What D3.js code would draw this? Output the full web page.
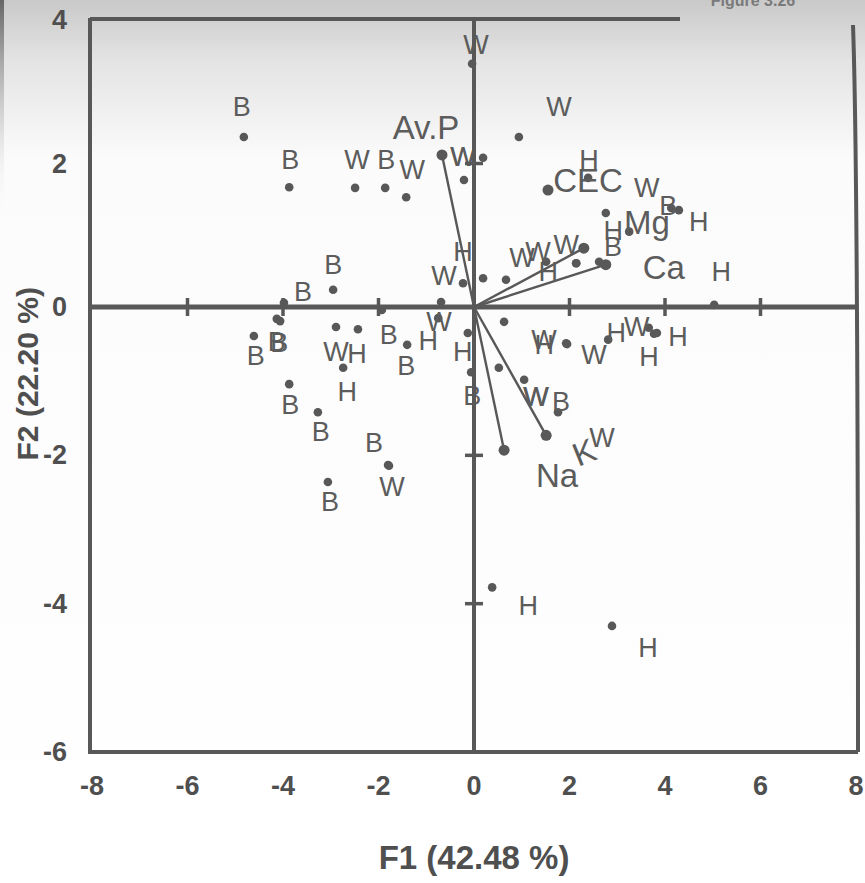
<!DOCTYPE html>
<html><head><meta charset="utf-8">
<script src="https://cdn.jsdelivr.net/npm/d3@7"></script>
<style>
html,body{margin:0;padding:0;background:#fff;}
svg{display:block;}
</style></head>
<body>
<svg id="chart" width="865" height="883"></svg>
<script>
// ---- data ----
const obsLabels = ["B","B","W","B","W","W","W","W","W","H","W","W","B","B","B","B","B","W","H","H","B","B","H","H","B","B","B","B","W","B","W","H","W","H","B","B","H","H","W","B","W","W","W","H","W","H","W","H","H","H","H","W","W","H"];
const obsF1 = [-4.82,-3.87,-2.49,-1.86,-1.42,-0.21,0.19,-0.04,-0.23,0.19,0.67,-0.69,-2.95,-3.98,-4.61,-4.13,-4.06,-2.89,-2.43,-2.74,-1.93,-1.40,-0.75,-0.13,-0.06,-3.87,-3.27,-1.80,-1.78,-3.06,0.94,2.39,2.76,3.25,2.62,4.13,4.29,5.03,1.53,1.76,1.05,0.52,0.63,1.93,1.95,2.81,3.66,3.77,3.83,0.38,2.89,1.51,2.14,2.14];
const obsF2 = [2.37,1.67,1.66,1.66,1.53,1.77,2.08,3.39,0.33,0.40,0.38,0.07,0.24,0.06,-0.39,-0.16,-0.19,-0.27,-0.30,-0.82,-0.04,-0.51,-0.15,-0.35,-0.88,-1.04,-1.42,-2.13,-2.14,-2.36,2.37,1.80,1.31,1.05,0.63,1.38,1.35,0.03,-1.74,-1.42,-0.98,-0.82,-0.20,-0.49,-0.50,-0.44,-0.28,-0.36,-0.35,-3.78,-4.30,0.63,0.61,0.61];

const varNames = ["Av.P","CEC","Mg","Ca","Na","K"];
const varF1 = [-0.67,1.55,2.30,2.76,0.63,1.51];
const varF2 = [2.12,1.63,0.82,0.59,-1.93,-1.73];
const varNoLine = ["CEC"];

const xTicks = [-8,-6,-4,-2,0,2,4,6,8];
const yTicks = [-6,-4,-2,0,2,4];
const xTitle = "F1 (42.48 %)";
const yTitle = "F2 (22.20 %)";
const figNote = "Figure 3.26";

// ---- layout (label offsets in px, not data) ----
const obsLabelOffset = [[-2,-30],[1,-27],[2,-28],[1,-28],[6,-27],[-1,-23],[-20,-1],[4,-19],[-19,-7],[-20,-26],[16,-22],[-2,20],[0,-25],[19,-11],[2,20],[0,23],[-1,22],[0,25],[-1,25],[4,24],[7,25],[-1,21],[-10,23],[-5,19],[1,24],[1,21],[3,20],[-14,-22],[3,21],[2,20],[40,-30],[1,-18],[41,-25],[-16,-1],[14,-15],[-3,-2],[20,12],[7,-33],[55,2],[3,-10],[12,17],[37,29],[40,18],[-22,2],[27,11],[8,-7],[-12,-1],[-5,23],[21,4],[36,19],[36,22],[-8,-10],[-10,-18],[-28,9]];
const varLabelOffset = [[-16,-27],[40,-10],[63,-26],[58,3],[53,25],[38,17]];
const varLabelRotate = [0,0,0,0,0,-22];

const svg = d3.select("#chart");
const W = 865, H = 883;

// scanned-paper background tint
const defs = svg.append("defs");
const g1 = defs.append("linearGradient").attr("id","bg").attr("x1",0).attr("y1",0).attr("x2",0).attr("y2",1);
g1.append("stop").attr("offset","0%").attr("stop-color","#c9c9c9");
g1.append("stop").attr("offset","7%").attr("stop-color","#e4e4e4");
g1.append("stop").attr("offset","18%").attr("stop-color","#fbfbfb");
g1.append("stop").attr("offset","100%").attr("stop-color","#ffffff");
svg.append("rect").attr("width",W).attr("height",H).attr("fill","url(#bg)");
const g2 = defs.append("linearGradient").attr("id","edge").attr("x1",0).attr("y1",0).attr("x2",0).attr("y2",1);
g2.append("stop").attr("offset","0%").attr("stop-color","#666");
g2.append("stop").attr("offset","100%").attr("stop-color","#fff").attr("stop-opacity",0);
svg.append("rect").attr("x",0).attr("y",0).attr("width",4).attr("height",220).attr("fill","url(#edge)");

const x = d3.scaleLinear().domain([-8,8]).range([92,856]);
const y = d3.scaleLinear().domain([-6,0,4]).range([752,307,20]);

const ink = "#585858";
const txt = "#5c5c5c";
const font = "'Liberation Sans', Arial, sans-serif";

// figure note (cut off at top, as in the scan)
svg.append("text").attr("x",753).attr("y",6).attr("text-anchor","middle")
  .attr("font-family",font).attr("font-size",16).attr("font-weight","bold").attr("fill","#7a7a7a").text(figNote);

// frame
const fr = svg.append("g").attr("stroke",ink).attr("stroke-width",4).attr("fill","none");
fr.append("line").attr("x1",x(-8)-2).attr("x2",x(-8)-2).attr("y1",y(4)-2).attr("y2",y(-6)+2);
fr.append("line").attr("x1",x(-8)-2).attr("x2",x(8)+2).attr("y1",y(-6)).attr("y2",y(-6));
fr.append("line").attr("x1",x(-8)-2).attr("x2",680).attr("y1",y(4)-1).attr("y2",y(4)-1);
fr.append("path").attr("d",`M${x(8)-3},${y(4)+5} Q${x(8)+2},${y(2)} ${x(8)+2},${y(-6)}`);

// observation dots
const obs = obsLabels.map((l,i)=>({l, f1:obsF1[i], f2:obsF2[i], off:obsLabelOffset[i]}));
svg.append("g").selectAll("circle").data(obs).join("circle")
  .attr("cx",d=>x(d.f1)).attr("cy",d=>y(d.f2)).attr("r",4.3).attr("fill",ink);

// vectors
const vars = varNames.map((n,i)=>({n, f1:varF1[i], f2:varF2[i], off:varLabelOffset[i], rot:varLabelRotate[i]}));
const vg = svg.append("g");
vg.selectAll("line").data(vars.filter(d=>!varNoLine.includes(d.n))).join("line")
  .attr("x1",x(0)).attr("y1",y(0)).attr("x2",d=>x(d.f1)).attr("y2",d=>y(d.f2))
  .attr("stroke",ink).attr("stroke-width",2.4);
vg.selectAll("circle").data(vars).join("circle")
  .attr("cx",d=>x(d.f1)).attr("cy",d=>y(d.f2)).attr("r",5.5).attr("fill",ink);

// observation labels
svg.append("g").selectAll("text").data(obs).join("text")
  .attr("x",d=>x(d.f1)+d.off[0]).attr("y",d=>y(d.f2)+d.off[1])
  .attr("text-anchor","middle").attr("dominant-baseline","central")
  .attr("font-family",font).attr("font-size",27).attr("fill",txt).text(d=>d.l);

// vector labels
svg.append("g").selectAll("text").data(vars).join("text")
  .attr("transform",d=>`translate(${x(d.f1)+d.off[0]},${y(d.f2)+d.off[1]}) rotate(${d.rot})`)
  .attr("text-anchor","middle").attr("dominant-baseline","central")
  .attr("font-family",font).attr("font-size",33).attr("fill",txt).text(d=>d.n);

// axes through origin (drawn over labels, as in the original)
const ax = svg.append("g").attr("stroke",ink);
ax.append("line").attr("x1",x(-8)).attr("x2",x(8)+2).attr("y1",y(0)).attr("y2",y(0)).attr("stroke-width",5);
ax.append("line").attr("x1",x(0)).attr("x2",x(0)).attr("y1",y(4)).attr("y2",y(-6)).attr("stroke-width",4);
// tick dashes on the zero axes
ax.selectAll(".tx").data(xTicks.filter(t=>t!==0 && Math.abs(t)<8)).join("line")
  .attr("x1",d=>x(d)).attr("x2",d=>x(d)).attr("y1",y(0)-9).attr("y2",y(0)+9).attr("stroke-width",3.5);
ax.selectAll(".ty").data(yTicks.filter(t=>t!==0 && t>-6 && t<4)).join("line")
  .attr("y1",d=>y(d)).attr("y2",d=>y(d)).attr("x1",x(0)-9).attr("x2",x(0)+9).attr("stroke-width",3.5);

// tick labels
const tl = svg.append("g").attr("font-family",font).attr("font-weight","bold").attr("font-size",27).attr("fill","#4f4f4f");
tl.selectAll(".xl").data(xTicks).join("text")
  .attr("x",d=>x(d)).attr("y",786).attr("text-anchor","middle").attr("dominant-baseline","central")
  .text(d=>d);
tl.selectAll(".yl").data(yTicks).join("text")
  .attr("x",67).attr("y",d=>y(d)).attr("text-anchor","end").attr("dominant-baseline","central")
  .text(d=>d);

// axis titles
svg.append("text").attr("x",x(0)).attr("y",857).attr("text-anchor","middle").attr("dominant-baseline","central")
  .attr("font-family",font).attr("font-weight","bold").attr("font-size",33).attr("fill","#4f4f4f").text(xTitle);
svg.append("text").attr("transform",`translate(27,${y(-0.9)}) rotate(-90)`).attr("text-anchor","middle").attr("dominant-baseline","central")
  .attr("font-family",font).attr("font-weight","bold").attr("font-size",30).attr("fill","#4f4f4f").text(yTitle);
</script>
</body></html>
